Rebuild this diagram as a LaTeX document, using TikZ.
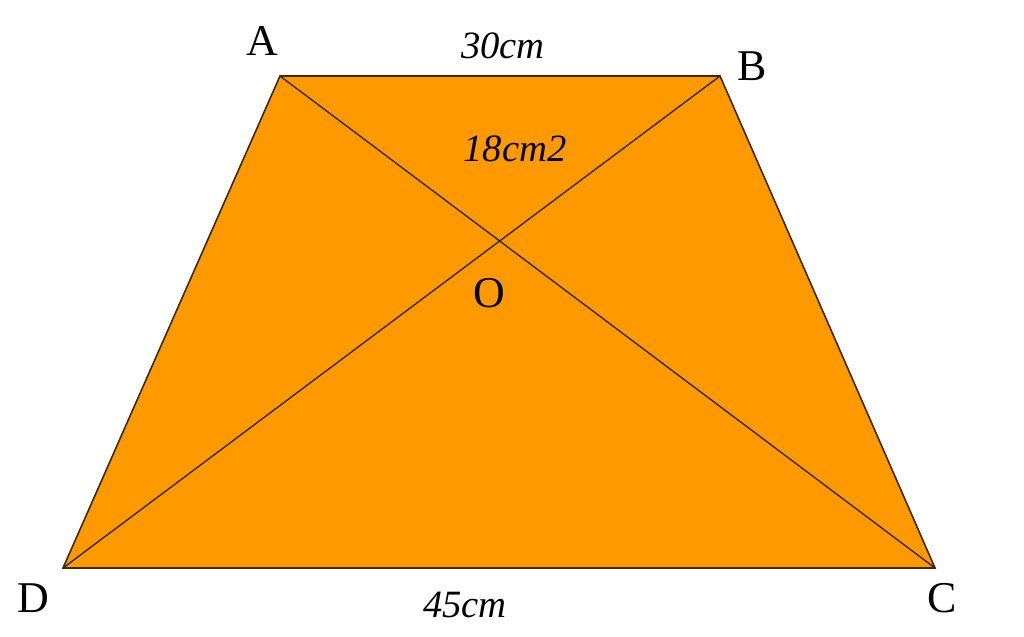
\documentclass[tikz,border=0pt]{standalone}
\usepackage{fontspec}
\setmainfont{Liberation Serif}
\definecolor{trapfill}{RGB}{255,153,0}
\definecolor{edgecol}{RGB}{60,40,10}

\begin{document}
\begin{tikzpicture}[x=0.02cm,y=-0.02cm,
        vlabel/.style={font=\fontsize{25}{25}\selectfont},
        dlabel/.style={font=\fontsize{22}{22}\selectfont\itshape}]
        \useasboundingbox (0,0) rectangle (1024,636);
        \coordinate (A) at (280,76);
        \coordinate (B) at (720,76);
        \coordinate (C) at (935,568);
        \coordinate (D) at (63,568);
        \filldraw[fill=trapfill,draw=edgecol,line width=0.9pt] (A) -- (B) -- (C) -- (D) -- cycle;
        \draw[edgecol,line width=0.8pt] (A) -- (C);
        \draw[edgecol,line width=0.8pt] (B) -- (D);
        \node[vlabel] (lA) at (262,41) {A};
        \node[vlabel] (lB) at (752,66) {B};
        \node[vlabel] (lC) at (942,598) {C};
        \node[vlabel] (lD) at (33,598) {D};
        \node[vlabel] (lO) at (489,293) {O};
        \node[dlabel] (top) at (503,46) {30cm};
        \node[dlabel] (area) at (515,149) {18cm2};
        \node[dlabel] (base) at (465,605) {45cm};
\end{tikzpicture}
\end{document}
